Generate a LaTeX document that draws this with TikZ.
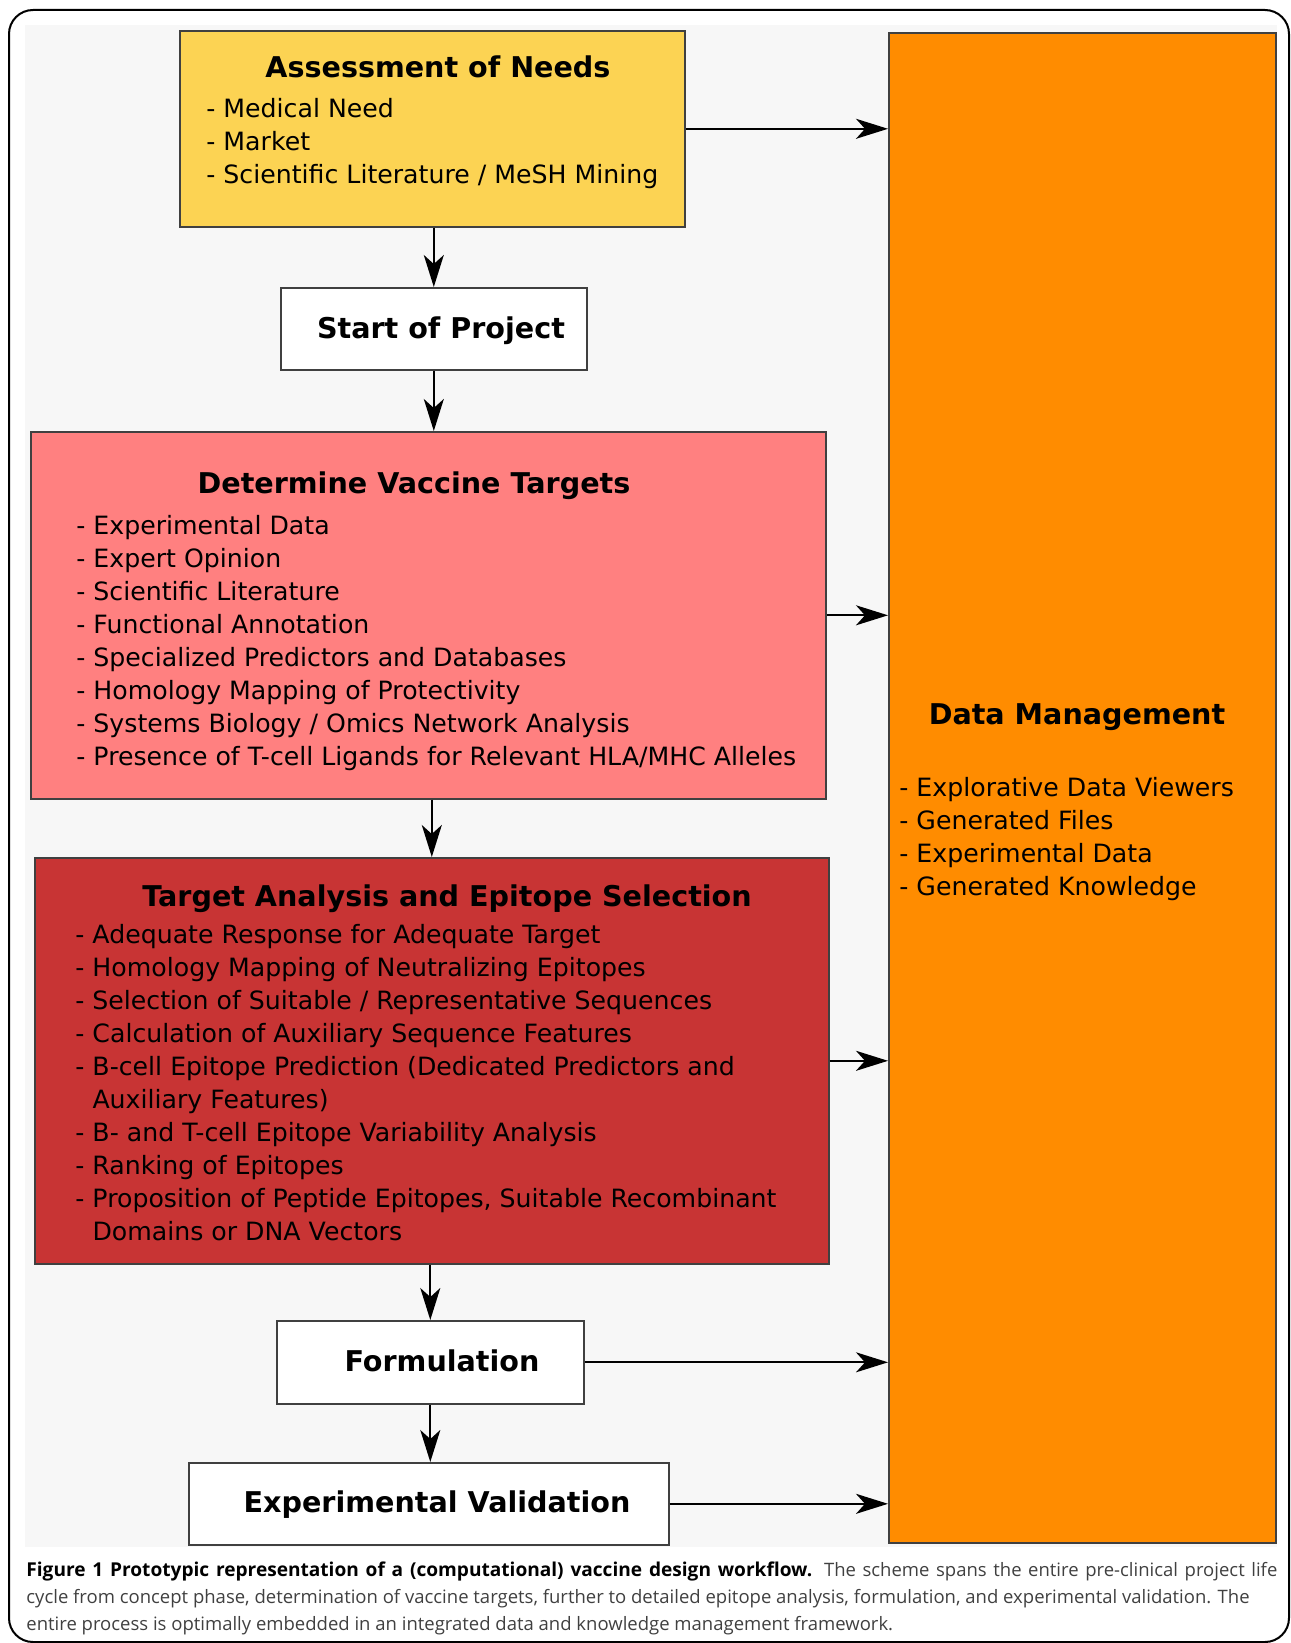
\documentclass[tikz,border=0pt]{standalone}
\usepackage{fontspec}
\setmainfont{DejaVu Sans}
\newfontfamily\capfont{Open Sans}
\usetikzlibrary{positioning, arrows.meta, calc}

\definecolor{needsyellow}{HTML}{FCD353}
\definecolor{targetpink}{HTML}{FF8080}
\definecolor{epitopered}{HTML}{C83434}
\definecolor{dataorange}{HTML}{FF8C00}
\definecolor{panelgrey}{HTML}{F7F7F7}

\begin{document}
\begin{tikzpicture}[
    x=0.5pt, y=-0.5pt, % one unit is one pixel of the figure
    box/.style={draw=black!75, line width=0.8pt, anchor=north west, inner sep=0pt},
    head/.style={font=\bfseries\fontsize{14.3}{17}\selectfont, anchor=base, inner sep=0pt},
    items/.style={font=\fontsize{12.6}{16.5}\selectfont, align=left, anchor=north west, inner sep=0pt},
    arr/.style={-{Stealth[length=16pt, width=10pt, inset=4.5pt]}, line width=1pt}
]
    \useasboundingbox (0,0) rectangle (1290,1643);

    % Frame and background
    \draw[line width=1pt, rounded corners=12pt] (9,10) rectangle (1289,1642);
    \fill[panelgrey] (25,25) rectangle (1277,1547);

    % Place the boxes
    \node (needs) [box, fill=needsyellow, minimum width=252.5pt, minimum height=98pt] at (179,30) {};
    \node (start) [box, fill=white, minimum width=153pt, minimum height=41pt] at (280,287) {};
    \node (determine) [box, fill=targetpink, minimum width=397.5pt, minimum height=183.5pt] at (30,431) {};
    \node (target) [box, fill=epitopered, minimum width=397pt, minimum height=203pt] at (34,857) {};
    \node (formulation) [box, fill=white, minimum width=153.5pt, minimum height=41.5pt] at (276,1320) {};
    \node (validation) [box, fill=white, minimum width=240pt, minimum height=41pt] at (188,1462) {};
    \node (data) [box, fill=dataorange, minimum width=193.5pt, minimum height=755pt] at (888,32) {};

    % Titles
    \node (needstitle) [head] at (438,78) {Assessment of Needs};
    \node (starttitle) [head] at (441,338) {Start of Project};
    \node (determinetitle) [head] at (414,493) {Determine Vaccine Targets};
    \node (targettitle) [head] at (447,906) {Target Analysis and Epitope Selection};
    \node (formulationtitle) [head] at (442,1371) {Formulation};
    \node (validationtitle) [head] at (437,1512) {Experimental Validation};
    \node (datatitle) [head] at (1077,724) {Data Management};

    % Lists
    \node (needslist) [items] at (206,98) {- Medical Need\\- Market\\- Scientific Literature / MeSH Mining};
    \node (determinelist) [items] at (76,515) {- Experimental Data\\- Expert Opinion\\- Scientific Literature\\- Functional Annotation\\- Specialized Predictors and Databases\\- Homology Mapping of Protectivity\\- Systems Biology / Omics Network Analysis\\- Presence of T-cell Ligands for Relevant HLA/MHC Alleles};
    \node (targetlist) [items] at (75,924) {- Adequate Response for Adequate Target\\- Homology Mapping of Neutralizing Epitopes\\- Selection of Suitable / Representative Sequences\\- Calculation of Auxiliary Sequence Features\\- B-cell Epitope Prediction (Dedicated Predictors and\\\hphantom{- }Auxiliary Features)\\- B- and T-cell Epitope Variability Analysis\\- Ranking of Epitopes\\- Proposition of Peptide Epitopes, Suitable Recombinant\\\hphantom{- }Domains or DNA Vectors};
    \node (datalist) [items] at (899,777) {- Explorative Data Viewers\\- Generated Files\\- Experimental Data\\- Generated Knowledge};

    % Draw the arrows
    \draw [arr] (start.north |- needs.south) -- (start.north);
    \draw [arr] (start.south) -- (determine.north -| start.south);
    \draw [arr] (determine.south -| target.north) -- (target.north);
    \draw [arr] (target.south -| formulation.north) -- (formulation.north);
    \draw [arr] (formulation.south) -- (formulation.south |- validation.north);
    \draw [arr] (needs.east) -- (needs.east -| data.west);
    \draw [arr] (determine.east) -- (determine.east -| data.west);
    \draw [arr] (target.east) -- (target.east -| data.west);
    \draw [arr] (formulation.east) -- (formulation.east -| data.west);
    \draw [arr] (validation.east) -- (validation.east -| data.west);

    % Caption
    \node (caption) [anchor=north west, inner sep=0pt, align=left, text=black!75,
        font=\capfont\fontsize{9.25}{13.7}\selectfont] at (26,1561)
        {\hbox to 625.5pt{\textcolor{black}{\bfseries\fontsize{9.55}{13.7}\selectfont Figure 1 Prototypic representation of a (computational) vaccine design workflow.} The scheme spans the entire pre-clinical project life}\\
        cycle from concept phase, determination of vaccine targets, further to detailed epitope analysis, formulation, and experimental validation. The\\
        entire process is optimally embedded in an integrated data and knowledge management framework.};
\end{tikzpicture}
\end{document}
